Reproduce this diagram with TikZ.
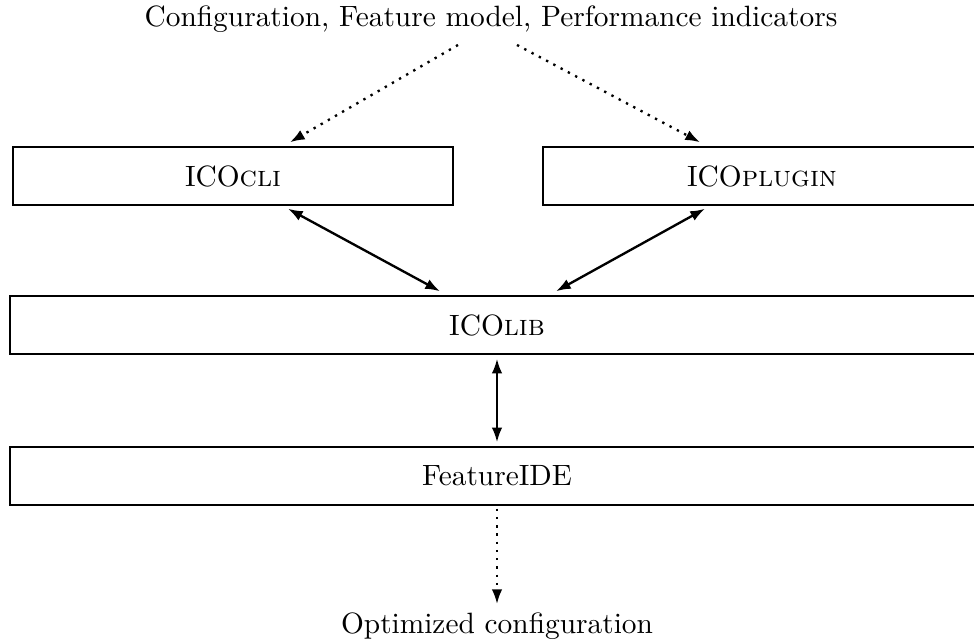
\documentclass[tikz,border=0pt]{standalone}
\usetikzlibrary{arrows.meta,calc}
\begin{document}
\begin{tikzpicture}[x=0.3404pt,y=-0.3404pt,
  box/.style={draw,line width=0.5pt,inner sep=0pt,minimum height=58*0.3404pt},
  both/.style={line width=0.8pt,{Latex[length=5pt,width=3.6pt]}-{Latex[length=5pt,width=3.6pt]}},
  dotarrow/.style={line width=0.8pt,dotted,-{Latex[length=5pt,width=3.6pt]}},
  label/.style={inner sep=0pt}]
\useasboundingbox (0,0) rectangle (974,644);
\node[label] (top) at (491,19) {Configuration, Feature model, Performance indicators};
\node[box,minimum width=440*0.3404pt] (cli) at (233,176) {ICO\textsc{cli}};
\node[box,minimum width=438*0.3404pt] (plugin) at (762,176) {ICO\textsc{plugin}};
\node[box,minimum width=974*0.3404pt] (lib) at (497,325) {ICO\textsc{lib}};
\node[box,minimum width=974*0.3404pt] (fide) at (497,476) {FeatureIDE};
\node[label] (out) at (497,626) {Optimized configuration};
\draw[dotarrow] ($(top.south)+(-33,12)$) -- ($(cli.north)+(57,-4)$);
\draw[dotarrow] ($(top.south)+(26,12)$) -- ($(plugin.north)+(-62,-4)$);
\draw[both] ($(cli.south)+(55,3)$) -- ($(lib.north)+(-57,-4)$);
\draw[both] ($(plugin.south)+(-57,3)$) -- ($(lib.north)+(59,-4)$);
\draw[both] ($(lib.south)+(0,4)$) -- ($(fide.north)+(0,-4)$);
\draw[dotarrow] ($(fide.south)+(0,3)$) -- ($(out.north)+(0,-8)$);
\end{tikzpicture}
\end{document}
